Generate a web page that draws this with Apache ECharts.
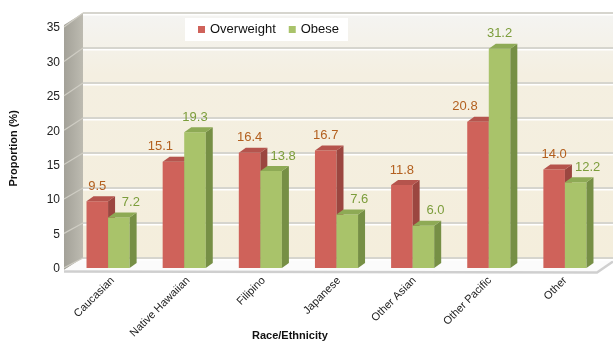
<!DOCTYPE html>
<html><head><meta charset="utf-8">
<script src="https://cdn.jsdelivr.net/npm/echarts@6/dist/echarts.min.js"></script>
<style>html,body{margin:0;padding:0;background:#fff}#c{width:613px;height:341px}</style>
</head><body><div id="c"></div>
<script>
const categories = ['Caucasian','Native Hawaiian','Filipino','Japanese','Other Asian','Other Pacific','Other'];
const overweight = [9.5,15.1,16.4,16.7,11.8,20.8,14.0];
const obese = [7.2,19.3,13.8,7.6,6.0,31.2,12.2];
const seriesNames = ['Overweight','Obese'];
const yTicks = [0,5,10,15,20,25,30,35];

const FONT = '"Liberation Sans", Arial, Helvetica, sans-serif';
const palettes = [
  {front:'#cf625a', side:'#9b4640', top:'#b5544d', label:'#b3601f'},
  {front:'#a9c36a', side:'#768f45', top:'#8eaa55', label:'#7c9d3b'}
];
const values = [overweight, obese];

function makeRender(si){
  const pal = palettes[si];
  return function(params, api){
    const i = api.value(0), v = api.value(1);
    const top = api.coord([i, v]);
    const base = api.coord([i, 0]);
    const band = api.size([1, 0])[0];
    const bw = band * 0.283;
    const x = si === 0 ? top[0] - bw : top[0];
    const y = top[1], yb = base[1];
    const dx = 7, dy = 5;
    const other = values[1 - si][i];
    let shift = 0;
    if (v < other) shift = si === 0 ? -13 : 12;
    return {type:'group', children:[
      {type:'rect', shape:{x:x, y:y, width:bw, height:yb - y}, style:{fill:pal.front}},
      {type:'polygon', shape:{points:[[x+bw,y],[x+bw+dx,y-dy],[x+bw+dx,yb-dy],[x+bw,yb]]}, style:{fill:pal.side}},
      {type:'polygon', shape:{points:[[x,y],[x+dx,y-dy],[x+bw+dx,y-dy],[x+bw,y]]}, style:{fill:pal.top}},
      {type:'text', x: x + bw/2 + shift, y: y - 15, style:{text: v.toFixed(1), fill: pal.label, font: '13px ' + FONT, align:'center', verticalAlign:'middle'}}
    ]};
  };
}

const chart = echarts.init(document.getElementById('c'), null, {renderer:'canvas'});
const option = {
  animation:false,
  backgroundColor:'#ffffff',
  textStyle:{fontFamily:FONT},
  legend:{
    left:185, top:18, backgroundColor:'#ffffff', padding:[5,9,5,13],
    itemWidth:7, itemHeight:7, itemGap:13, icon:'rect', z:10,
    textStyle:{fontSize:13, fontFamily:FONT, color:'#111'},
    data: seriesNames
  },
  grid:[
    {left:70, right:10, top:22, bottom:341-268},
    {left:70, right:10, top:28, bottom:341-271.5},
    {left:83, right:0, top:13, bottom:341-258, show:true, borderWidth:0, z:-1,
     backgroundColor:{type:'linear', x:0, y:0, x2:0, y2:1, colorStops:[{offset:0,color:'#f4f4f2'},{offset:0.25,color:'#f4efe1'},{offset:1,color:'#f4eedc'}]}}
  ],
  xAxis:[
    {gridIndex:0, type:'category', data:categories, show:false},
    {gridIndex:1, type:'category', data:categories, axisLine:{show:false}, axisTick:{show:false},
     axisLabel:{rotate:45, interval:0, margin:10, fontSize:11, color:'#222', fontFamily:FONT}},
    {gridIndex:2, type:'category', data:categories, show:false}
  ],
  yAxis:[
    {gridIndex:0, type:'value', min:0, max:35, interval:5, show:false},
    {gridIndex:1, type:'value', min:0, max:35, interval:5, axisLine:{show:false}, axisTick:{show:false}, splitLine:{show:false},
     axisLabel:{margin:15, fontSize:12, color:'#222', fontFamily:FONT},
     name:'Proportion (%)', nameLocation:'middle', nameGap:56,
     nameTextStyle:{fontSize:11, fontWeight:'bold', color:'#111', fontFamily:FONT}},
    {gridIndex:2, type:'value', min:0, max:35, interval:5, axisLine:{show:false}, axisTick:{show:false}, axisLabel:{show:false},
     splitLine:{show:true, lineStyle:{color:'#d6d5ce', width:2, shadowColor:'#ffffff', shadowOffsetY:1.5, shadowBlur:0}}}
  ],
  graphic:[
    {type:'polygon', z:0, shape:{points:[[64,25],[83,13],[83,258],[64,270]]},
     style:{fill:{type:'linear', x:0, y:0, x2:1, y2:0, colorStops:[{offset:0,color:'#a3a198'},{offset:1,color:'#bdbbb1'}]}}},
    {type:'polygon', z:0, shape:{points:[[64,270],[83,258],[613,258],[613,260],[597,271]]}, style:{fill:'#fbfbfb'}},
    {type:'polyline', z:0, shape:{points:[[64,271.5],[597,272.5],[613,261.5]]}, style:{stroke:'#cfcfcf', lineWidth:2.5, fill:null}},
    {type:'text', z:5, left:252, top:330, style:{text:'Race/Ethnicity', font:'bold 11px ' + FONT, fill:'#111'}}
  ],
  series: seriesNames.map((name, si) => ({
    name: name, type:'custom', xAxisIndex:0, yAxisIndex:0, z:3,
    itemStyle:{color: palettes[si].front},
    encode:{x:0, y:1},
    data: values[si].map((v, i) => [i, v]),
    renderItem: makeRender(si)
  }))
};
chart.setOption(option);

// side-wall tick lines, positioned from the axes' own scales
const wallLines = yTicks.map(t => {
  const fy = chart.convertToPixel({yAxisIndex:1}, t);
  const by = chart.convertToPixel({yAxisIndex:2}, t);
  return {type:'line', z:1, shape:{x1:64, y1:fy - 1, x2:83, y2:by}, style:{stroke:'#cfcdc4', lineWidth:1.2}};
});
chart.setOption({graphic: option.graphic.concat(wallLines)});
</script></body></html>
